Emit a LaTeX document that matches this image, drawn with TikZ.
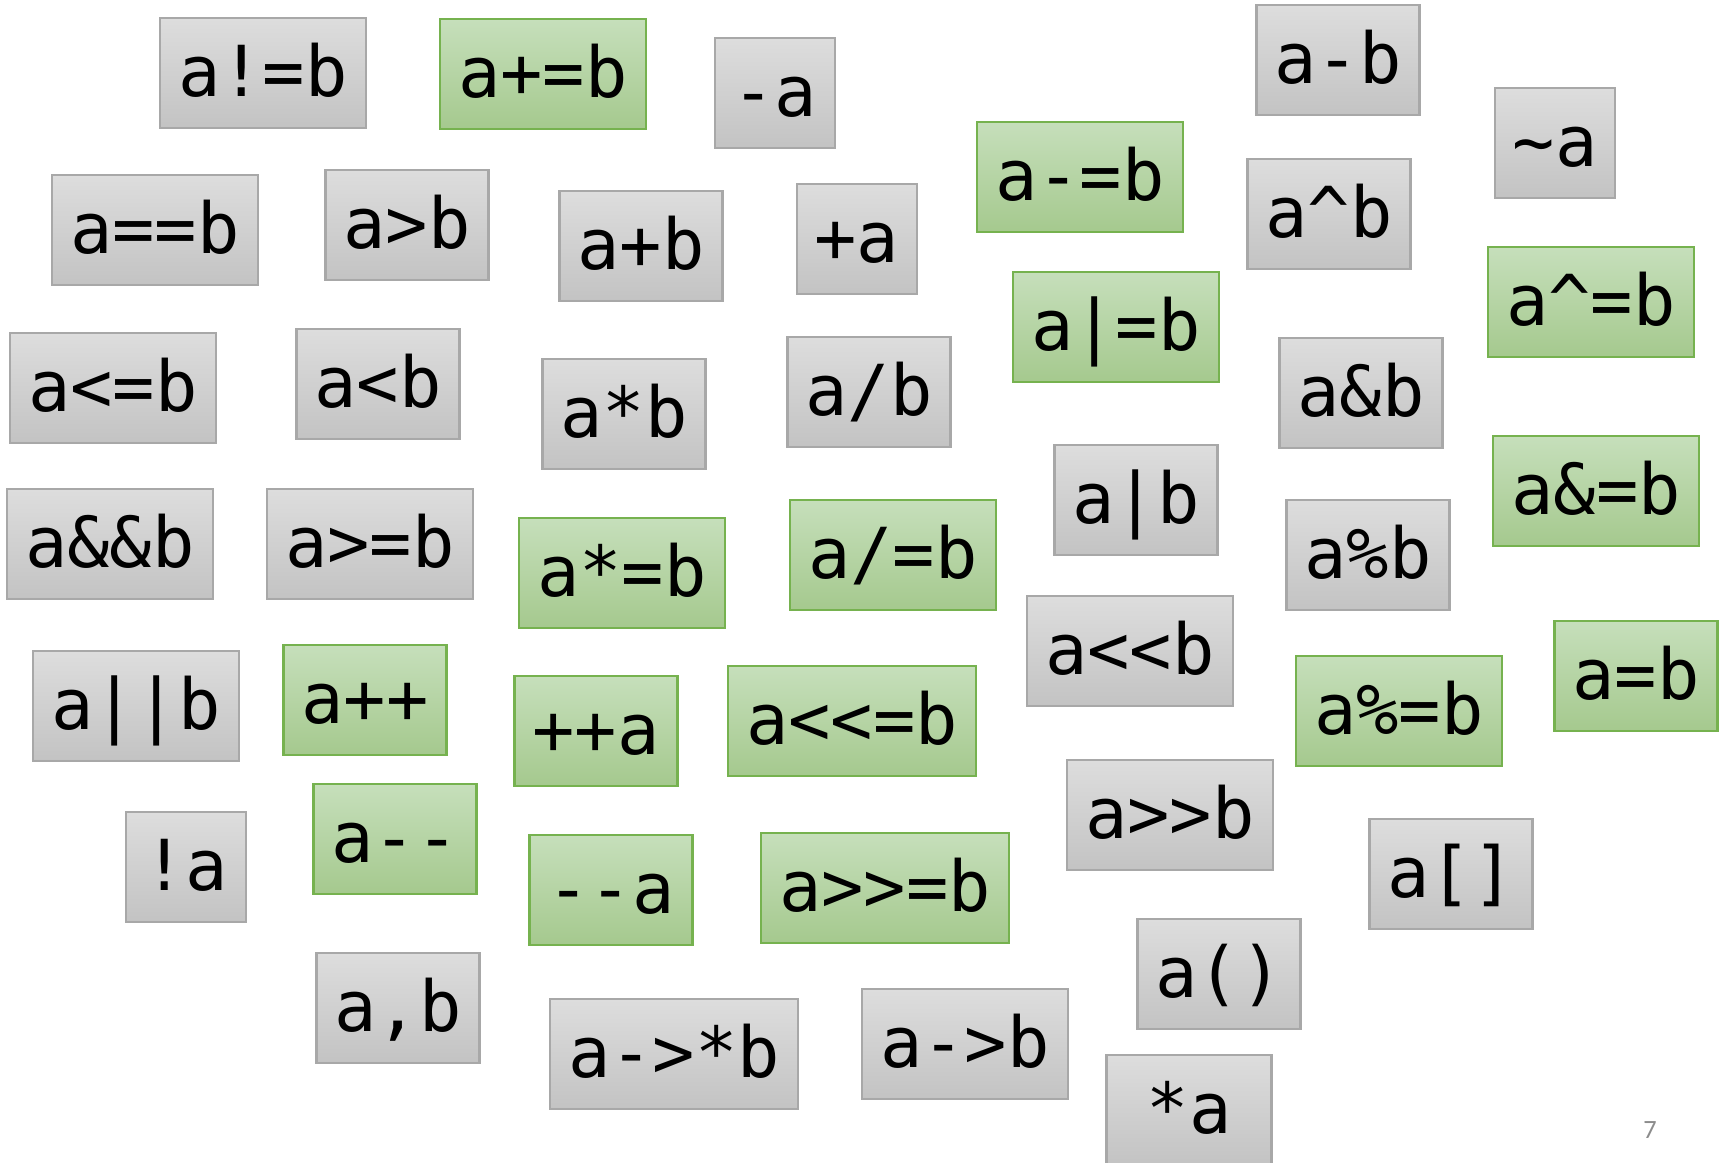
\documentclass[tikz,border=0pt]{standalone}
\usepackage{fontspec}
\setmonofont{DejaVu Sans Mono}
\newfontfamily\calfont{Carlito}
\usepackage{tikz}
\usetikzlibrary{positioning}
\definecolor{graytop}{HTML}{DDDDDD}
\definecolor{graybot}{HTML}{C3C3C3}
\definecolor{grayrim}{HTML}{A8A8A8}
\definecolor{greentop}{HTML}{C6DFBB}
\definecolor{greenbot}{HTML}{A5C98E}
\definecolor{greenrim}{HTML}{76B24F}

\begin{document}
\begin{tikzpicture}[
    x=0.01cm, y=-0.01cm,
    opbox/.style={
        draw=grayrim,
        top color=graytop,
        bottom color=graybot,
        line width=0.6pt,
        minimum height=1.1cm,
        inner xsep=0.18cm,
        text height=15pt,
        text depth=1.4pt,
        font=\fontsize{20pt}{24pt}\selectfont\ttfamily
    },
    assignbox/.style={
        opbox,
        draw=greenrim,
        top color=greentop,
        bottom color=greenbot
    },
    pagenum/.style={
        text=gray!90,
        font=\fontsize{7.5pt}{9pt}\selectfont\calfont
    }
]
\clip (0,0) rectangle (1729,1162);
\fill[white] (0,0) rectangle (1729,1162);
% Top band
\node[opbox] (neq) at (263,73) {a!=b};
\node[assignbox] (addeq) at (543,74) {a+=b};
\node[opbox] (neg) at (775,93) {-a};
\node[opbox] (sub) at (1338,60) {a-b};
\node[opbox] (compl) at (1555,143) {\textasciitilde a};
\node[assignbox] (subeq) at (1080,177) {a-=b};
\node[opbox] (xor) at (1329,214) {a\textasciicircum b};
\node[assignbox] (xoreq) at (1591,302) {a\textasciicircum=b};
% Second band
\node[opbox] (eq) at (155,230) {a==b};
\node[opbox] (gt) at (407,225) {a>b};
\node[opbox] (add) at (641,246) {a+b};
\node[opbox] (pos) at (857,239) {+a};
\node[assignbox] (oreq) at (1116,327) {a|=b};
\node[opbox] (band) at (1361,393) {a\&b};
% Third band
\node[opbox] (le) at (113,388) {a<=b};
\node[opbox] (lt) at (378,384) {a<b};
\node[opbox] (mul) at (624,414) {a*b};
\node[opbox] (div) at (869,392) {a/b};
\node[opbox] (bor) at (1136,500) {a|b};
\node[assignbox] (andeq) at (1596,491) {a\&=b};
% Fourth band
\node[opbox] (land) at (110,544) {a\&\&b};
\node[opbox] (ge) at (370,544) {a>=b};
\node[assignbox] (muleq) at (622,573) {a*=b};
\node[assignbox] (diveq) at (893,555) {a/=b};
\node[opbox] (mod) at (1368,555) {a\%b};
\node[opbox] (shl) at (1130,651) {a<<b};
\node[assignbox] (assign) at (1636,676) {a=b};
% Fifth band
\node[opbox] (lor) at (136,706) {a||b};
\node[assignbox] (postinc) at (365,700) {a++};
\node[assignbox] (preinc) at (596,731) {++a};
\node[assignbox] (shleq) at (852,721) {a<<=b};
\node[assignbox] (modeq) at (1399,711) {a\%=b};
\node[opbox] (shr) at (1170,815) {a>>b};
% Sixth band
\node[opbox] (lnot) at (186,867) {!a};
\node[assignbox] (postdec) at (395,839) {a--};
\node[assignbox] (predec) at (611,890) {--a};
\node[assignbox] (shreq) at (885,888) {a>>=b};
\node[opbox] (subscr) at (1451,874) {a[]};
\node[opbox] (call) at (1219,974) {a()};
% Bottom band
\node[opbox] (comma) at (398,1008) {a,b};
\node[opbox] (ptrmem) at (674,1054) {a->*b};
\node[opbox] (member) at (965,1044) {a->b};
\node[opbox, minimum width=1.65cm] (deref) at (1189,1110) {*a};
% Slide number
\node[pagenum] (page) at (1650,1130) {7};
\end{tikzpicture}
\end{document}
